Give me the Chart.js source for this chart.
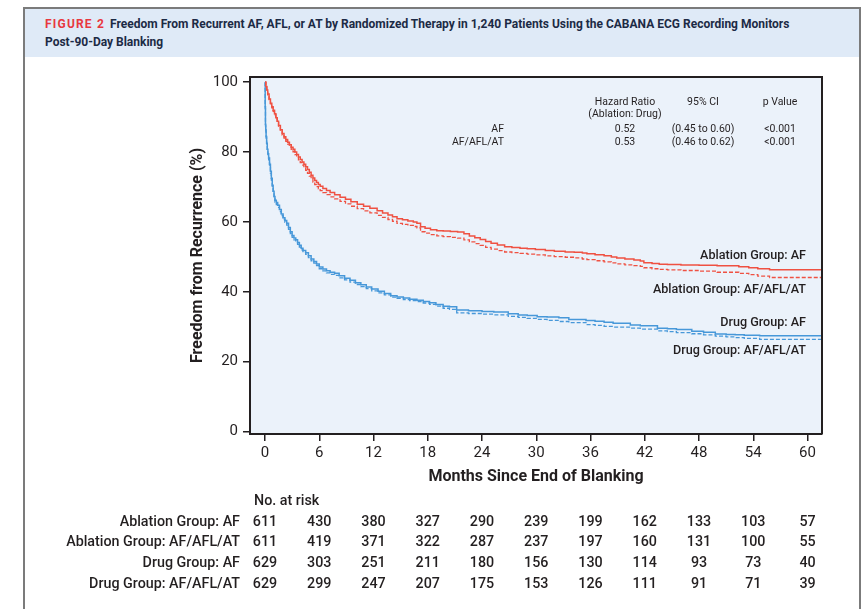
<!DOCTYPE html>
<html>
<head>
<meta charset="utf-8">
<script src="https://cdn.jsdelivr.net/npm/chart.js@4.4.1/dist/chart.umd.min.js"></script>
<style>
  html, body { margin:0; padding:0; background:#ffffff; }
  body { width:863px; height:609px; position:relative; overflow:hidden; font-family: Roboto, "Liberation Sans", sans-serif; color:#231f20; }
  #frame { position:absolute; left:23px; top:7px; width:838px; height:640px; box-sizing:border-box; border:2px solid #7b7b7b; border-bottom:none; }
  #band { position:absolute; left:25px; top:9px; width:834px; height:48px; background:#dfeaf7; }
  #title { position:absolute; left:45px; top:15px; font-weight:700; font-size:12px; line-height:18px; color:#1c2a45; white-space:nowrap; }
  #title .fig { color:#e8383f; letter-spacing:1.2px; margin-right:5px; }
  canvas { position:absolute; left:0; top:0; }
  .t { position:absolute; white-space:nowrap; }
  .hr { font-size:10.5px; line-height:12px; color:#231f20; }
  .lbl { font-size:12.6px; font-weight:500; line-height:15px; color:#231f20; text-align:right; }
  .risk { font-size:14.3px; font-weight:500; line-height:18px; color:#231f20; }
</style>
</head>
<body>
<div id="frame"></div>
<div id="band"></div>
<div id="title"><span class="fig">FIGURE 2</span>Freedom From Recurrent AF, AFL, or AT by Randomized Therapy in 1,240 Patients Using the CABANA ECG Recording Monitors<br>Post-90-Day Blanking</div>
<canvas id="c" width="863" height="609"></canvas>
<div id="overlay"></div>
<script>
// ---------- data ----------
const monthTicks = [0, 6, 12, 18, 24, 30, 36, 42, 48, 54, 60];
const valueTicks = [0, 20, 40, 60, 80, 100];

const ablMonths = [0, 0.1, 0.2, 0.3, 0.45, 0.6, 0.75, 0.9, 1.05, 1.2, 1.35, 1.5, 1.7, 1.9, 2.1, 2.3, 2.5, 2.7, 2.9, 3.1,
  3.3, 3.5, 3.7, 3.9, 4.1, 4.3, 4.5, 4.7, 4.9, 5.1, 5.3, 5.5, 5.7, 5.9, 6.1, 6.4, 6.8, 7.2, 7.7, 8.3,
  8.9, 9.5, 10.2, 10.9, 11.6, 12.4, 13.0, 13.6, 14.1, 14.6, 15.2, 15.8, 16.4, 16.8, 17.2, 17.7, 18.3, 19.0, 19.7, 20.5,
  21.3, 22.0, 22.6, 23.2, 23.8, 24.4, 25.0, 25.7, 26.5, 27.3, 28.2, 29.0, 29.9, 31.0, 32.0, 33.2, 34.2, 35.1, 35.6, 36.5,
  37.5, 38.3, 38.9, 39.8, 40.8, 41.5, 41.9, 42.8, 43.6, 44.5, 46.0, 48.0, 50.0, 52.4, 53.5, 54.5, 55.8, 61.6];
const ablAF = [100, 98.8, 97.8, 96.6, 95.2, 94, 93, 92, 91, 89.8, 88.8, 87.6, 86.4, 85.3, 84.4, 83.6, 82.8, 82.1, 81.4, 80.8,
  80, 79.3, 78.6, 77.9, 77.2, 76.5, 75.8, 75, 74.2, 73.4, 72.6, 71.9, 71.3, 70.7, 70.2, 69.6, 69, 68.4, 67.8, 67.1,
  66.5, 65.8, 65.1, 64.5, 63.9, 63.2, 62.6, 62, 61.5, 60.9, 60.6, 60.3, 60, 59.6, 58.6, 58.2, 57.8, 57.5, 57.4, 57.3,
  57.1, 56.6, 56, 55.5, 55, 54.4, 53.9, 53.4, 52.9, 52.7, 52.5, 52.3, 52.1, 51.8, 51.6, 51.4, 51.3, 51.1, 50.9, 50.6,
  50.3, 50, 49.7, 49.4, 49.1, 48.8, 48.3, 48.1, 47.9, 47.8, 47.7, 47.6, 47.5, 47.2, 46.9, 46.6, 46.3, 46.3];
const ablAll = [100, 98.7, 97.6, 96.4, 95, 93.8, 92.7, 91.7, 90.7, 89.5, 88.4, 87.2, 86, 84.9, 84, 83.1, 82.3, 81.5, 80.8, 80.1,
  79.3, 78.5, 77.8, 77, 76.3, 75.5, 74.8, 73.9, 73.1, 72.3, 71.4, 70.7, 70.1, 69.5, 69, 68.4, 67.8, 67.2, 66.6, 65.9,
  65.2, 64.5, 63.8, 63.2, 62.6, 61.9, 61.3, 60.7, 60.2, 59.6, 59.3, 59, 58.7, 58.3, 57.2, 56.8, 56.4, 56, 55.8, 55.6,
  55.4, 54.9, 54.3, 53.8, 53.3, 52.7, 52.2, 51.8, 51.4, 51.2, 51, 50.8, 50.6, 50.3, 50.1, 49.9, 49.7, 49.4, 49.2, 48.9,
  48.6, 48.3, 48, 47.7, 47.5, 47.3, 46.9, 46.6, 46.4, 46.3, 46.1, 45.9, 45.6, 45.3, 44.9, 44.5, 44.1, 44.1];

const drugMonths = [0, 0.02, 0.05, 0.08, 0.12, 0.18, 0.25, 0.32, 0.4, 0.5, 0.6, 0.7, 0.8, 0.9, 1.0, 1.1, 1.25, 1.4, 1.6, 1.8,
  2.0, 2.2, 2.4, 2.6, 2.8, 3.0, 3.2, 3.4, 3.6, 3.8, 4.0, 4.2, 4.5, 4.8, 5.1, 5.4, 5.7, 6.0, 6.4, 6.8,
  7.2, 7.7, 8.2, 8.8, 9.4, 10.0, 10.6, 11.2, 11.8, 12.5, 13.2, 13.9, 14.6, 15.3, 16.0, 16.8, 17.5, 18.2, 18.9, 19.7,
  20.4, 21.2, 22.5, 24.0, 25.3, 26.9, 28.0, 29.0, 30.1, 31.2, 32.5, 33.6, 35.5, 36.5, 37.5, 38.5, 40.4, 41.5, 43.4, 44.5,
  45.5, 47.2, 48.5, 49.8, 51.0, 52.0, 53.0, 54.7, 61.6];
const drugAF = [100, 93, 88, 86.5, 84.5, 82.5, 80.8, 79.5, 78.3, 76.5, 74.5, 72.5, 70.5, 68.8, 67.3, 66.2, 65.6, 64.8, 63.6, 62.3,
  61.2, 60.4, 59.6, 58.4, 57.2, 56.1, 55.4, 54.9, 54.1, 53.3, 52.5, 51.8, 51.2, 50.3, 49.4, 48.7, 48, 47.1, 46.5, 46,
  45.6, 45.3, 44.6, 43.9, 43.3, 42.6, 42, 41.4, 40.8, 40.2, 39.5, 38.9, 38.5, 38.2, 37.9, 37.6, 37.2, 36.9, 36.4, 35.9,
  35.7, 34.8, 34.6, 34.4, 34.2, 33.7, 33.4, 33.2, 32.9, 32.8, 32.6, 32.1, 31.8, 31.6, 31.3, 31, 30.5, 30.3, 29.6, 29.4,
  29.2, 28.7, 28.4, 27.9, 27.8, 27.7, 27.6, 27.4, 27.4];
const drugAll = [100, 92.5, 87.5, 86, 84, 82, 80.3, 79, 77.8, 76, 74, 72, 70, 68.3, 66.8, 65.7, 65, 64.2, 63, 61.8,
  60.7, 59.9, 59.1, 57.9, 56.7, 55.6, 54.9, 54.4, 53.6, 52.8, 52, 51.3, 50.7, 49.8, 48.9, 48.2, 47.5, 46.6, 46, 45.4,
  45, 44.7, 44, 43.4, 42.8, 42.1, 41.5, 40.9, 40.3, 39.7, 39.1, 38.5, 38.1, 37.8, 37.5, 37.2, 36.8, 36.4, 35.9, 35.3,
  35, 34, 33.8, 33.6, 33.4, 33, 32.7, 32.4, 32.1, 31.8, 31.5, 31.2, 30.6, 30.4, 30.1, 29.9, 29.6, 29.3, 28.8, 28.6,
  28.3, 28, 27.7, 27.3, 27.1, 26.9, 26.7, 26.4, 26.4];

const riskRowLabels = ["Ablation Group: AF", "Ablation Group: AF/AFL/AT", "Drug Group: AF", "Drug Group: AF/AFL/AT"];
const riskAblAF = [611, 430, 380, 327, 290, 239, 199, 162, 133, 103, 57];
const riskAblAll = [611, 419, 371, 322, 287, 237, 197, 160, 131, 100, 55];
const riskDrugAF = [629, 303, 251, 211, 180, 156, 130, 114, 93, 73, 40];
const riskDrugAll = [629, 299, 247, 207, 175, 153, 126, 111, 91, 71, 39];

const hrHeaders = ["Hazard Ratio", "95% CI", "p Value"];
const hrSub = "(Ablation: Drug)";
const hrRows = [["AF", "0.52", "(0.45 to 0.60)", "<0.001"], ["AF/AFL/AT", "0.53", "(0.46 to 0.62)", "<0.001"]];
const curveLabels = ["Ablation Group: AF", "Ablation Group: AF/AFL/AT", "Drug Group: AF", "Drug Group: AF/AFL/AT"];

// ---------- chart ----------
const RED = '#ef5142', BLUE = '#4798d9', INK = '#231f20';
const pts = (xs, ys) => xs.map((x, i) => ({x: x, y: ys[i]}));

const bgPlugin = {
  id: 'bg',
  beforeDraw(chart) {
    const {ctx, chartArea: a} = chart;
    ctx.save();
    ctx.fillStyle = '#ebf2fa';
    ctx.fillRect(a.left, a.top, a.right - a.left, a.bottom - a.top);
    ctx.restore();
  },
  afterDraw(chart) {
    const {ctx, chartArea: a} = chart;
    ctx.save();
    ctx.strokeStyle = INK;
    ctx.lineWidth = 2;
    ctx.beginPath();
    ctx.moveTo(a.left, a.top); ctx.lineTo(a.right, a.top); ctx.lineTo(a.right, a.bottom);
    ctx.stroke();
    ctx.restore();
  }
};

const chart = new Chart(document.getElementById('c'), {
  type: 'line',
  data: {
    datasets: [
      {label: curveLabels[0], data: pts(ablMonths, ablAF), borderColor: RED, borderWidth: 1.5, stepped: true},
      {label: curveLabels[1], data: pts(ablMonths, ablAll), borderColor: RED, borderWidth: 1.3, borderDash: [4, 2], stepped: true},
      {label: curveLabels[2], data: pts(drugMonths, drugAF), borderColor: BLUE, borderWidth: 1.5, stepped: true},
      {label: curveLabels[3], data: pts(drugMonths, drugAll), borderColor: BLUE, borderWidth: 1.3, borderDash: [4, 2], stepped: true}
    ]
  },
  options: {
    responsive: false, animation: false, devicePixelRatio: 1,
    layout: {padding: {left: 180, top: 77, right: 41, bottom: 115}},
    plugins: {legend: {display: false}, tooltip: {enabled: false}},
    elements: {point: {radius: 0}, line: {tension: 0}},
    scales: {
      x: {
        type: 'linear', min: -1.66, max: 61.6,
        afterBuildTicks: s => { s.ticks = monthTicks.map(v => ({value: v})); },
        afterFit: s => { s.height = 60; },
        ticks: {font: {family: 'Roboto', size: 15}, color: INK, padding: 3, maxRotation: 0, autoSkip: false},
        grid: {drawOnChartArea: false, tickLength: 7, color: INK, lineWidth: 1.5},
        border: {color: INK, width: 2},
        title: {display: true, text: 'Months Since End of Blanking', color: INK, font: {family: 'Roboto', size: 16, weight: 'bold'}, padding: {top: 0, bottom: 7}}
      },
      y: {
        type: 'linear', min: -0.7, max: 101.5,
        afterBuildTicks: s => { s.ticks = valueTicks.map(v => ({value: v})); },
        afterFit: s => { s.width = 70; },
        ticks: {font: {family: 'Roboto', size: 15}, color: INK, padding: 5, autoSkip: false},
        grid: {drawOnChartArea: false, tickLength: 7, color: INK, lineWidth: 1.5},
        border: {color: INK, width: 2},
        title: {display: true, text: 'Freedom from Recurrence (%)', color: INK, font: {family: 'Roboto', size: 16, weight: 'bold'}, padding: {top: 8, bottom: 0}}
      }
    }
  },
  plugins: [bgPlugin]
});

// ---------- text overlays ----------
const ov = document.getElementById('overlay');
function addText(txt, cls, x, yc, align, lh) {
  const d = document.createElement('div');
  d.className = 't ' + cls;
  d.textContent = txt;
  d.style.top = (yc - lh / 2) + 'px';
  if (align === 'right') { d.style.right = (863 - x) + 'px'; d.style.textAlign = 'right'; }
  else if (align === 'center') { d.style.left = (x - 60) + 'px'; d.style.width = '120px'; d.style.textAlign = 'center'; }
  else { d.style.left = x + 'px'; }
  ov.appendChild(d);
}
// hazard ratio table
const hrX = [625, 703, 780];
hrHeaders.forEach((h, i) => addText(h, 'hr', hrX[i], 102, 'center', 12));
addText(hrSub, 'hr', hrX[0], 114, 'center', 12);
hrRows.forEach((r, j) => {
  const yc = 129 + j * 13;
  addText(r[0], 'hr', 504, yc, 'right', 12);
  for (let i = 1; i < 4; i++) addText(r[i], 'hr', hrX[i - 1], yc, 'center', 12);
});
// curve labels
const lblY = [254, 288, 321, 349];
curveLabels.forEach((t, i) => addText(t, 'lbl', 806, lblY[i], 'right', 15));
// number at risk
const xs = chart.scales.x;
addText('No. at risk', 'risk', 254, 500, 'left', 18);
const riskRows = [riskAblAF, riskAblAll, riskDrugAF, riskDrugAll];
const riskY = [521, 541, 562, 583];
riskRows.forEach((row, j) => {
  addText(riskRowLabels[j], 'risk', 240, riskY[j], 'right', 18);
  row.forEach((n, i) => addText(String(n), 'risk', xs.getPixelForValue(monthTicks[i]), riskY[j], 'center', 18));
});
</script>
</body>
</html>
